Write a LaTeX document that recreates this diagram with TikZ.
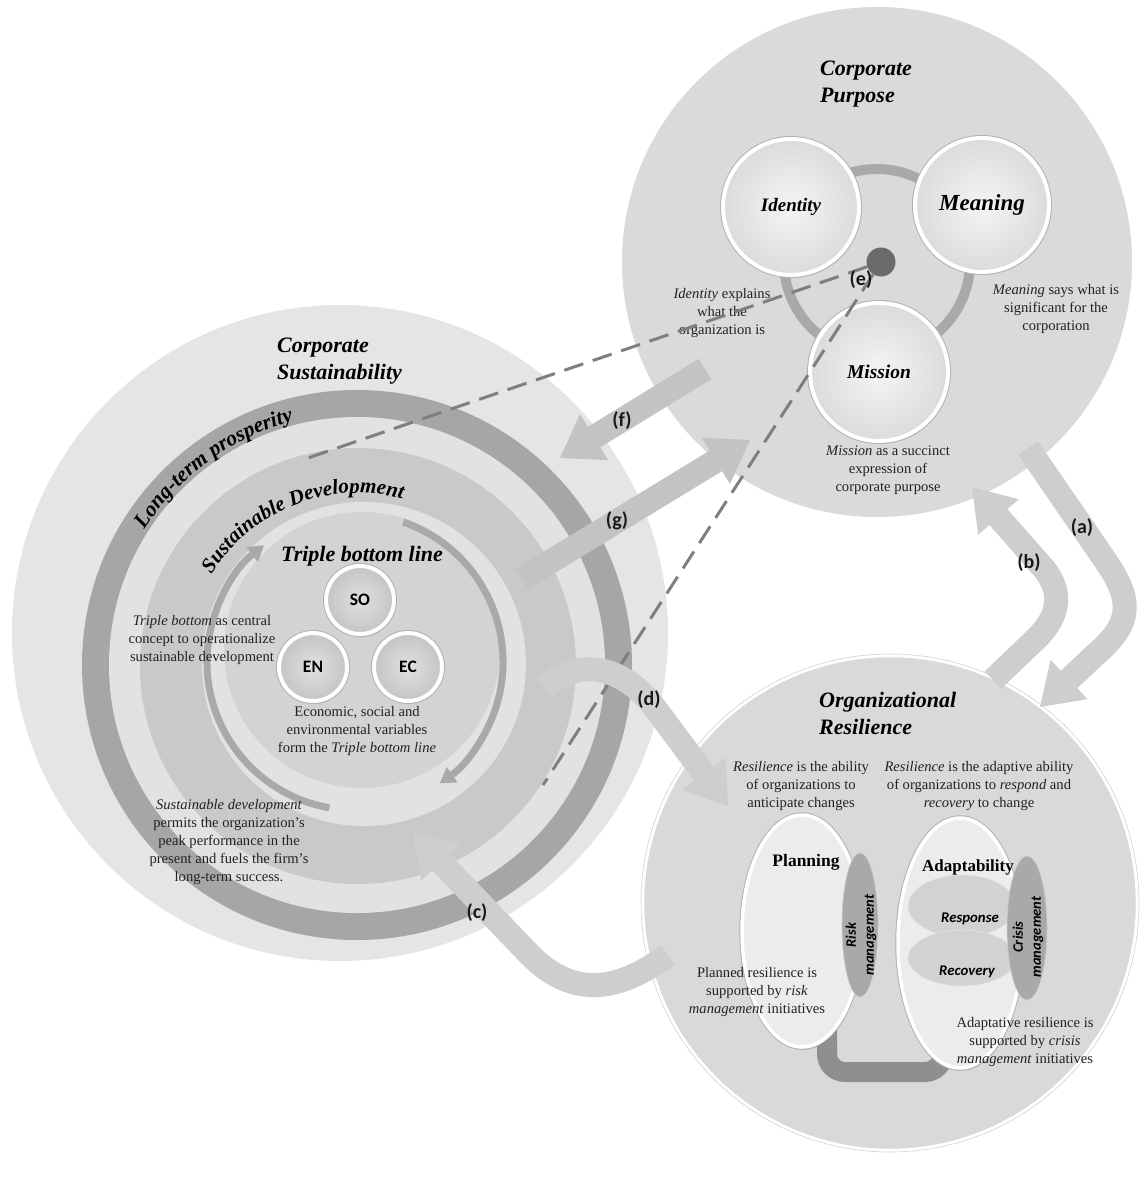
\documentclass[tikz,border=0pt]{standalone}
\usepackage{fontspec}
\setmainfont{Liberation Serif}
\newfontfamily\calibri{Carlito}
\usetikzlibrary{arrows.meta,shadows,decorations.text,shapes.geometric}

\definecolor{cpfill}{HTML}{DADADA}
\definecolor{csout}{HTML}{E5E5E5}
\definecolor{ringdark}{HTML}{A6A6A6}
\definecolor{gapring}{HTML}{E2E2E2}
\definecolor{sdfill}{HTML}{C9C9C9}
\definecolor{tblring}{HTML}{E2E2E2}
\definecolor{tblfill}{HTML}{D3D3D3}
\definecolor{orfill}{HTML}{D9D9D9}
\definecolor{arrowlight}{HTML}{CECECE}
\definecolor{arrowmid}{HTML}{C3C3C3}
\definecolor{dashgray}{HTML}{7F7F7F}
\definecolor{txt}{HTML}{222222}
\definecolor{cycle}{HTML}{A9A9A9}
\definecolor{mgmt}{HTML}{A9A9A9}
\definecolor{phase}{HTML}{D2D2D2}
\definecolor{panel}{HTML}{ECECEC}
\definecolor{bridge}{HTML}{8F8F8F}

\tikzset{
  body/.style={font=\fontsize{14.6}{18}\selectfont, text=txt, align=center, inner sep=0pt},
  title/.style={font=\bfseries\itshape\fontsize{22}{27}\selectfont, text=black, align=left, inner sep=0pt},
  tag/.style={font=\calibri\bfseries\fontsize{20}{24}\selectfont, text=black!90, inner sep=0pt},
  softshadow/.style={drop shadow={shadow xshift=1.5pt, shadow yshift=-2.5pt, opacity=0.22, fill=black}},
  bubble/.style={circle, inner sep=0pt, softshadow,
    preaction={draw=black!30, line width=6pt},
    shading=radial, inner color=white!96!black, outer color=white!86!black,
    draw=white, line width=4pt},
  tblbubble/.style={bubble, inner color=white!88!black, outer color=white!77!black},
  panelshape/.style={ellipse, inner sep=0pt, softshadow,
    preaction={draw=black!30, line width=5.5pt},
    fill=panel, draw=white, line width=3.5pt},
  phaseshape/.style={ellipse, inner sep=0pt, fill=phase, draw=white!90!black, line width=0.6pt},
  mgmtshape/.style={ellipse, inner sep=0pt, fill=mgmt, draw=white!80!black, line width=0.6pt},
  blockarrow/.style={line width=24pt, -{Triangle[length=40pt,width=54pt,line width=0pt]}},
  cyclearrow/.style={cycle, line width=7pt, -{Triangle[length=15pt,width=19pt,line width=0pt]}},
  linkdash/.style={dashgray, line width=3pt, dash pattern=on 20pt off 10pt},
}

\begin{document}
\begin{tikzpicture}[x=1pt,y=-1pt]
\useasboundingbox (0,0) rectangle (1145,1201);
\fill[white] (0,0) rectangle (1145,1201);

% ---------------- Corporate Sustainability ----------------
\fill[csout] (340,633) circle (328);
\fill[ringdark] (357,665) circle (275);
\fill[gapring] (357,665) circle (248);
\fill[sdfill] (358,666) circle (218);
\fill[tblring] (364,664) circle (162);
\fill[tblfill] (362,650) circle (138);

\path[decorate, decoration={text along path, text align=center,
  text={|\bfseries\itshape\fontsize{21.5}{24}\selectfont|Long-term prosperity}}]
  (357,665) ++(194:252) arc[start angle=194, end angle=274, radius=252];
\path[decorate, decoration={text along path, text align=center,
  text={|\bfseries\itshape\fontsize{21}{24}\selectfont|Sustainable Development}}]
  (358,666) ++(203:173) arc[start angle=203, end angle=294, radius=173];

% circular arrows round the triple bottom line
\draw[cyclearrow] (355,662) ++(-71:148) arc[start angle=-71, end angle=55, radius=148];
\draw[cyclearrow] (355,662) ++(100:148) arc[start angle=100, end angle=232, radius=148];

\node[title] (cstitle) at (277,361) [anchor=west] {Corporate\\Sustainability};
\node[font=\bfseries\itshape\fontsize{22}{24}\selectfont, inner sep=0pt] (tbltitle) at (362,556) {Triple bottom line};

\node[tblbubble, minimum size=68pt] (so) at (360,600) {\calibri\bfseries\fontsize{17.5}{20}\selectfont SO};
\node[tblbubble, minimum size=68pt] (en) at (313,667) {\calibri\bfseries\fontsize{17.5}{20}\selectfont EN};
\node[tblbubble, minimum size=68pt] (ec) at (408,667) {\calibri\bfseries\fontsize{17.5}{20}\selectfont EC};

\node[body] (tbldesc) at (202,640) {\textit{Triple bottom} as central\\concept to operationalize\\sustainable development};
\node[body] (tblform) at (357,731) {Economic, social and\\environmental variables\\form the \textit{Triple bottom line}};
\node[body] (sddesc) at (229,842) {\textit{Sustainable development}\\permits the organization’s\\peak performance in the\\present and fuels the firm’s\\long-term success.};

% ---------------- Corporate Purpose ----------------
\fill[cpfill] (877,262) circle (255);
\draw[cycle, line width=10pt] (877,262) circle (93);
\node[title] (cptitle) at (820,84) [anchor=west] {Corporate\\Purpose};

\node[bubble, minimum size=136pt] (identity) at (791,207) {\bfseries\itshape\fontsize{19}{22}\selectfont Identity};
\node[bubble, minimum size=134pt] (meaning) at (982,205) {\bfseries\itshape\fontsize{23}{26}\selectfont Meaning};
\node[bubble, minimum size=138pt] (mission) at (879,372) {\bfseries\itshape\fontsize{19.5}{22}\selectfont Mission};

\node[body] (iddesc) at (722,313) {\textit{Identity} explains\\what the\\organization is};
\node[body] (meandesc) at (1056,309) {\textit{Meaning} says what is\\significant for the\\corporation};
\node[body] (misdesc) at (888,470) {\textit{Mission} as a succinct\\expression of\\corporate purpose};

% ---------------- Organizational Resilience ----------------
\fill[orfill] (890,903) circle (247);
\draw[white, line width=2.5pt] (890,903) circle (247);
\draw[black!18, line width=0.6pt] (890,903) circle (249);
\node[title] (ortitle) at (819,713) [anchor=west] {Organizational\\Resilience};

\draw[bridge, line width=20pt, rounded corners=18pt] (827,1030) -- (827,1072) -- (943,1072) -- (943,1040);

\node[panelshape, minimum width=120pt, minimum height=232pt] (planning) at (802,931) {};
\node[panelshape, minimum width=124pt, minimum height=250pt] (adapt) at (960,943) {};
\node[phaseshape, minimum width=108pt, minimum height=62pt] (response) at (962,906) {};
\node[phaseshape, minimum width=108pt, minimum height=56pt] (recovery) at (962,958) {};
\node[mgmtshape, minimum width=36pt, minimum height=144pt] (risk) at (860,925) {};
\node[mgmtshape, minimum width=40pt, minimum height=144pt] (crisis) at (1027,928) {};

\node[font=\bfseries\fontsize{17.5}{20}\selectfont, inner sep=0pt] (plantitle) at (806,862) {Planning};
\node[font=\bfseries\fontsize{17}{20}\selectfont, inner sep=0pt] (adapttitle) at (968,867) {Adaptability};
\node[font=\calibri\bfseries\itshape\fontsize{14.8}{16}\selectfont, inner sep=0pt] (resplabel) at (970,919) {Response};
\node[font=\calibri\bfseries\itshape\fontsize{14.8}{16}\selectfont, inner sep=0pt] (recolabel) at (967,972) {Recovery};
\node[font=\calibri\bfseries\itshape\fontsize{14.5}{18}\selectfont, rotate=90, align=center, inner sep=0pt] (risklabel) at (861,935) {Risk\\management};
\node[font=\calibri\bfseries\itshape\fontsize{14.5}{18}\selectfont, rotate=90, align=center, inner sep=0pt] (crisislabel) at (1028,937) {Crisis\\management};

\node[body] (resdesc1) at (801,786) {\textit{Resilience} is the ability\\of organizations to\\anticipate changes};
\node[body] (resdesc2) at (979,786) {\textit{Resilience} is the adaptive ability\\of organizations to \textit{respond} and\\\textit{recovery} to change};
\node[body] (plandesc) at (757,992) {Planned resilience is\\supported by \textit{risk}\\\textit{management} initiatives};
\node[body] (adaptdesc) at (1025,1042) {Adaptative resilience is\\supported by \textit{crisis}\\\textit{management} initiatives};

% ---------------- links (e) ----------------
\node[circle, fill=black!58, minimum size=29pt, inner sep=0pt] (dot) at (881,262) {};
\coordinate (eleft) at (302,460);
\coordinate (edown) at (543,785);
\draw[linkdash] (dot) -- (eleft);
\draw[linkdash] (dot) -- (edown);

% ---------------- block arrows ----------------
\coordinate (fstart) at (705,369);
\coordinate (fend) at (560,458);
\coordinate (gstart) at (522,579);
\coordinate (gend) at (750,440);
\draw[blockarrow, arrowmid] (fstart) -- (fend);
\draw[blockarrow, arrowmid] (gstart) -- (gend);

\coordinate (astart) at (1028,448);
\coordinate (aend) at (1040,707);
\draw[blockarrow, arrowlight] (astart) -- (1105,560) .. controls (1135,603) and (1130,625) .. (1095,655) -- (aend);

\coordinate (bstart) at (993,680);
\coordinate (bend) at (972,487);
\draw[blockarrow, arrowlight] (bstart) -- (1038,637) .. controls (1062,612) and (1060,590) .. (1045,570) -- (bend);

\coordinate (cstart) at (668,955);
\coordinate (cend) at (413,833);
\draw[blockarrow, arrowlight] (cstart) .. controls (620,990) and (575,1000) .. (530,955) -- (cend);

\coordinate (dstart) at (545,688);
\coordinate (dend) at (728,806);
\draw[blockarrow, arrowlight] (dstart) .. controls (580,655) and (625,668) .. (655,708) -- (dend);

% ---------------- arrow tags ----------------
\node[tag] (taga) at (1082,528) {(a)};
\node[tag] (tagb) at (1029,563) {(b)};
\node[tag] (tagc) at (477,913) {(c)};
\node[tag] (tagd) at (649,700) {(d)};
\node[tag] (tage) at (861,280) {(e)};
\node[tag] (tagf) at (622,421) {(f)};
\node[tag] (tagg) at (617,521) {(g)};
\end{tikzpicture}
\end{document}
